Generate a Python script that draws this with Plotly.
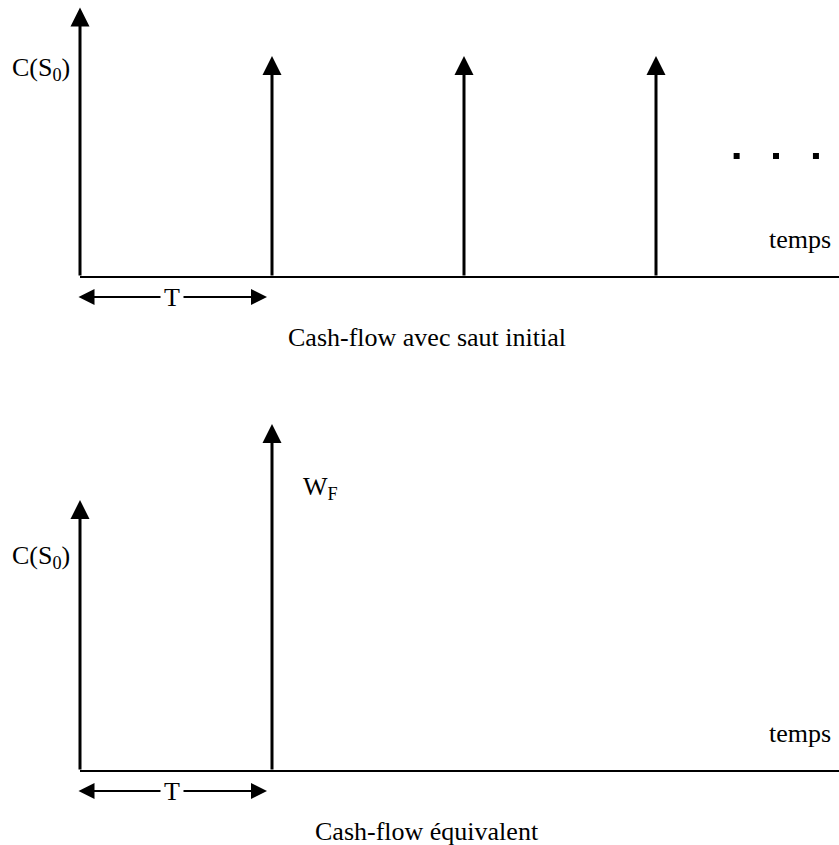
import plotly.graph_objects as go

# ---------------- data (time in units of T, heights in arbitrary units) ----
period = 1.0
top_times = [1, 2, 3]
top_values = [1.0, 1.0, 1.0]
top_axis_height = 1.22
top_dots_t = [3.42, 3.625, 3.833]
top_dots_y = [0.5475, 0.5475, 0.5475]

bottom_times = [0, 1]
bottom_values = [1.226, 1.57]

labels_top = {"axis": "C(S<sub>0</sub>)", "x": "temps", "caption": "Cash-flow avec saut initial"}
labels_bottom = {"axis": "C(S<sub>0</sub>)", "jump": "W<sub>F</sub>", "x": "temps",
                 "caption": "Cash-flow équivalent"}

# ---------------- layout geometry ----------------
W, H = 839, 845
PX_T = 192.0      # pixels per period
PX_U = 221.0      # pixels per height unit
X0 = 80           # pixel of t=0
x_range = [-X0 / PX_T, (W - X0) / PX_T]
split = 350       # pixel row between panels
top_base, bot_base = 277, 771
top_range = [(top_base - split) / PX_U, top_base / PX_U]
bot_range = [(bot_base - H) / PX_U, (bot_base - split) / PX_U]

FONT = dict(family="Liberation Serif, Times New Roman, serif", size=26, color="black")

fig = go.Figure()
annotations = []


def arrow(t, h, xr, yr, width=3, size=1.27):
    return dict(x=t, y=h, ax=t, ay=0, xref=xr, yref=yr, axref=xr, ayref=yr,
                text="", showarrow=True, arrowhead=2, arrowsize=size,
                arrowwidth=width, arrowcolor="black", standoff=0, startstandoff=0)


def panel(xr, yr, xa, ya, times, values, axis_height, axis_label, label_y, caption):
    # baseline
    fig.add_trace(go.Scatter(x=[0, x_range[1] + 0.1], y=[0, 0], mode="lines",
                             line=dict(color="black", width=2), xaxis=xa, yaxis=ya,
                             hoverinfo="skip", showlegend=False))
    # vertical axis arrow / impulses
    if axis_height is not None:
        annotations.append(arrow(0, axis_height, xr, yr))
    for t, v in zip(times, values):
        annotations.append(arrow(t, v, xr, yr))
    # axis label
    annotations.append(dict(x=-9 / PX_T, y=label_y, xref=xr, yref=yr, text=axis_label,
                            showarrow=False, xanchor="right", yanchor="middle",
                            font=FONT, borderpad=0))
    # "temps"
    annotations.append(dict(x=(832 - X0) / PX_T, y=38 / PX_U, xref=xr, yref=yr,
                            text="temps", showarrow=False, xanchor="right",
                            yanchor="middle", font=FONT, borderpad=0))
    # T double arrow
    yT = -20 / PX_U
    annotations.append(dict(x=period - 5 / PX_T, y=yT, ax=-3 / PX_T, ay=yT,
                            xref=xr, yref=yr, axref=xr, ayref=yr, text="",
                            showarrow=True, arrowhead=2, startarrowhead=2,
                            arrowside="end+start", arrowsize=1.6, startarrowsize=1.6,
                            arrowwidth=2, arrowcolor="black", standoff=0, startstandoff=0))
    annotations.append(dict(x=period * 0.479, y=yT, xref=xr, yref=yr, text="T",
                            showarrow=False, xanchor="center", yanchor="middle",
                            font=FONT, bgcolor="white", borderpad=3))
    # caption
    annotations.append(dict(x=(427 - X0) / PX_T, y=-60 / PX_U, xref=xr, yref=yr,
                            text=caption, showarrow=False, xanchor="center",
                            yanchor="middle", font=FONT, borderpad=0))


panel("x", "y", "x", "y", top_times, top_values, top_axis_height,
      labels_top["axis"], 208 / PX_U, labels_top["caption"])
fig.add_trace(go.Scatter(x=top_dots_t, y=top_dots_y, mode="markers",
                         marker=dict(symbol="square", size=6, color="black"),
                         xaxis="x", yaxis="y", hoverinfo="skip", showlegend=False))

panel("x2", "y2", "x2", "y2", bottom_times, bottom_values, None,
      labels_bottom["axis"], 214 / PX_U, labels_bottom["caption"])
annotations.append(dict(x=bottom_times[1] + 30 / PX_T, y=283 / PX_U, xref="x2", yref="y2",
                        text=labels_bottom["jump"], showarrow=False, xanchor="left",
                        yanchor="middle", font=FONT, borderpad=0))

axis_common = dict(visible=False, showgrid=False, zeroline=False, fixedrange=True)
fig.update_layout(
    width=W, height=H, margin=dict(l=0, r=0, t=0, b=0),
    paper_bgcolor="white", plot_bgcolor="white", showlegend=False,
    xaxis=dict(range=x_range, domain=[0, 1], anchor="y", **axis_common),
    yaxis=dict(range=top_range, domain=[1 - split / H, 1], anchor="x", **axis_common),
    xaxis2=dict(range=x_range, domain=[0, 1], anchor="y2", **axis_common),
    yaxis2=dict(range=bot_range, domain=[0, 1 - split / H], anchor="x2", **axis_common),
    annotations=annotations,
)

fig.write_html("out.html", config={"displayModeBar": False},
               post_script="document.body.style.margin='0';document.body.style.overflow='hidden';")
